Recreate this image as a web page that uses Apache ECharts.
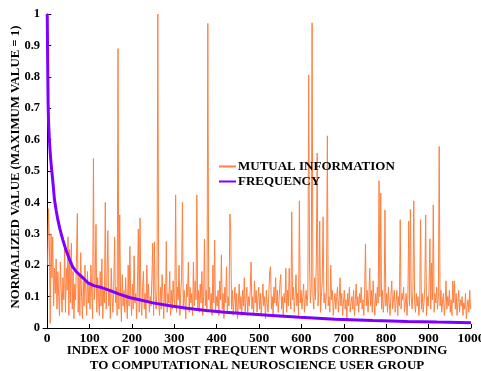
<!DOCTYPE html>
<html><head><meta charset="utf-8">
<script src="https://cdn.jsdelivr.net/npm/echarts@6/dist/echarts.min.js"></script>
<style>html,body{margin:0;padding:0;background:#fff}#c{width:481px;height:371px}</style>
</head><body><div id="c"></div>
<script>
// Mutual information, sampled at odd word indices 1,3,5,...,999
const miValues = [
0.20,0.38,0.28,0.015,0.30,0.16,0.29,0.07,0.19,0.11,
0.22,0.06,0.18,0.10,0.04,0.21,0.12,0.05,0.16,0.09,
0.26,0.05,0.19,0.12,0.29,0.04,0.25,0.08,0.27,0.06,
0.18,0.03,0.14,0.09,0.22,0.365,0.05,0.17,0.04,0.24,
0.10,0.03,0.15,0.07,0.20,0.12,0.04,0.18,0.08,0.14,
0.06,0.20,0.11,0.03,0.54,0.09,0.14,0.33,0.05,0.16,
0.10,0.04,0.18,0.07,0.22,0.03,0.12,0.08,0.40,0.06,
0.15,0.31,0.07,0.12,0.03,0.19,0.10,0.05,0.14,0.29,
0.08,0.13,0.04,0.89,0.06,0.36,0.11,0.02,0.17,0.07,
0.12,0.05,0.16,0.09,0.03,0.20,0.07,0.26,0.10,0.04,
0.14,0.06,0.23,0.08,0.11,0.03,0.15,0.315,0.05,0.35,
0.09,0.04,0.13,0.18,0.06,0.11,0.03,0.20,0.08,0.14,
0.05,0.10,0.07,0.16,0.27,0.04,0.275,0.09,0.06,0.12,
1.00,0.08,0.04,0.13,0.06,0.17,0.10,0.03,0.14,0.07,
0.275,0.05,0.11,0.08,0.18,0.04,0.12,0.06,0.15,0.09,
0.07,0.424,0.05,0.13,0.09,0.20,0.04,0.11,0.16,0.40,
0.06,0.12,0.08,0.03,0.14,0.10,0.21,0.05,0.13,0.08,
0.11,0.04,0.21,0.07,0.15,0.09,0.424,0.06,0.12,0.05,
0.14,0.08,0.18,0.04,0.10,0.283,0.07,0.12,0.05,0.97,
0.09,0.13,0.06,0.11,0.04,0.20,0.08,0.28,0.05,0.10,
0.07,0.12,0.04,0.15,0.09,0.233,0.06,0.11,0.03,0.13,
0.08,0.195,0.05,0.10,0.07,0.363,0.31,0.06,0.12,0.04,
0.09,0.13,0.05,0.11,0.03,0.08,0.14,0.06,0.10,0.04,
0.12,0.07,0.16,0.05,0.09,0.13,0.04,0.10,0.07,0.12,
0.21,0.06,0.10,0.04,0.15,0.08,0.12,0.05,0.09,0.13,
0.06,0.11,0.04,0.09,0.14,0.07,0.10,0.03,0.12,0.08,
0.05,0.11,0.18,0.195,0.06,0.10,0.04,0.13,0.08,0.16,
0.07,0.12,0.05,0.09,0.14,0.17,0.06,0.10,0.04,0.11,
0.08,0.19,0.05,0.12,0.07,0.19,0.10,0.06,0.37,0.09,
0.13,0.05,0.10,0.17,0.07,0.11,0.04,0.405,0.08,0.12,
0.06,0.10,0.14,0.05,0.09,0.12,0.07,0.11,0.806,0.20,
0.08,0.13,0.972,0.10,0.06,0.16,0.09,0.21,0.557,0.07,
0.12,0.34,0.05,0.10,0.15,0.354,0.08,0.11,0.06,0.13,
0.612,0.07,0.10,0.05,0.20,0.09,0.12,0.04,0.08,0.11,
0.06,0.10,0.13,0.05,0.09,0.16,0.07,0.11,0.04,0.08,
0.12,0.06,0.09,0.03,0.11,0.07,0.13,0.05,0.08,0.10,
0.06,0.12,0.04,0.09,0.14,0.07,0.10,0.05,0.11,0.08,
0.13,0.06,0.09,0.04,0.11,0.268,0.07,0.12,0.05,0.10,
0.19,0.07,0.12,0.05,0.15,0.09,0.04,0.11,0.07,0.13,
0.08,0.469,0.10,0.43,0.06,0.12,0.05,0.09,0.376,0.07,
0.11,0.05,0.13,0.08,0.04,0.10,0.15,0.06,0.09,0.12,
0.05,0.08,0.12,0.04,0.10,0.07,0.345,0.06,0.11,0.09,
0.13,0.05,0.08,0.11,0.04,0.09,0.34,0.07,0.378,0.10,
0.06,0.12,0.405,0.08,0.05,0.11,0.07,0.10,0.04,0.09,
0.345,0.06,0.11,0.05,0.08,0.13,0.36,0.04,0.10,0.07,
0.12,0.284,0.06,0.207,0.09,0.392,0.05,0.11,0.08,0.13,
0.06,0.10,0.578,0.07,0.12,0.05,0.09,0.11,0.04,0.08,
0.15,0.06,0.10,0.07,0.12,0.05,0.09,0.04,0.15,0.08,
0.15,0.06,0.11,0.04,0.08,0.12,0.05,0.09,0.07,0.10,
0.04,0.08,0.06,0.11,0.03,0.07,0.09,0.05,0.12,0.06
];
const miIndex = miValues.map((v, i) => 1 + 2 * i);

// Frequency curve, read at selected word indices
const freqIndex = [0,1,2,3,5,8,10,13,17,21,25,30,37,45,53,60,68,80,96,110,130,147,170,194,220,249,275,297,330,375,420,470,530,596,680,768,850,920,1000];
const freqValues = [1.0,0.85,0.72,0.66,0.60,0.54,0.51,0.47,0.41,0.375,0.345,0.315,0.28,0.245,0.217,0.195,0.18,0.165,0.144,0.135,0.128,0.12,0.108,0.097,0.089,0.08,0.074,0.069,0.063,0.056,0.05,0.045,0.04,0.034,0.028,0.024,0.021,0.019,0.017];

const xTicks = [0,100,200,300,400,500,600,700,800,900,1000];
const xTickLabels = ['0','100','200','300','400','500','600','700','800','900','1000'];
const yTickLabels = ['0','0.1','0.2','0.3','0.4','0.5','0.6','0.7','0.8','0.9','1'];
const seriesNames = ['MUTUAL INFORMATION','FREQUENCY'];
const xTitle = 'INDEX OF 1000 MOST FREQUENT WORDS CORRESPONDING\nTO COMPUTATIONAL NEUROSCIENCE USER GROUP';
const yTitle = 'NORMALIZED VALUE (MAXIMUM VALUE = 1)';

const font = 'Liberation Serif';
const chart = echarts.init(document.getElementById('c'), null, {renderer: 'canvas'});
chart.setOption({
  animation: false,
  backgroundColor: '#fff',
  grid: {left: 43, right: 10, top: 14, bottom: 43, containLabel: false, outerBoundsMode: 'none'},
  legend: {
    left: 213, top: 155, orient: 'vertical', itemGap: 2,
    itemWidth: 17, itemHeight: 10,
    itemStyle: {opacity: 0},
    textStyle: {fontFamily: font, fontWeight: 'bold', fontSize: 13, color: '#000', padding: [0,0,0,-3]},
    data: seriesNames
  },
  xAxis: {
    type: 'value', min: -10, max: 1000,
    splitLine: {show: false},
    axisLine: {onZero: false, lineStyle: {color: '#000', width: 1}},
    axisTick: {inside: true, length: 4, customValues: xTicks, lineStyle: {color: '#000'}},
    axisLabel: {customValues: xTicks, margin: 4, fontFamily: font, fontWeight: 'bold', fontSize: 13.5, color: '#000',
      formatter: v => xTickLabels[Math.round(v / 100)]},
    name: xTitle, nameLocation: 'middle', nameGap: 15, nameMoveOverlap: false,
    nameTextStyle: {fontFamily: font, fontWeight: 'bold', fontSize: 13, color: '#000', lineHeight: 15}
  },
  yAxis: {
    type: 'value', min: 0, max: 1, interval: 0.1,
    splitLine: {show: false},
    axisLine: {show: true, lineStyle: {color: '#000', width: 1}},
    axisTick: {show: true, inside: true, length: 4, lineStyle: {color: '#000'}},
    axisLabel: {margin: 3, fontFamily: font, fontWeight: 'bold', fontSize: 12.5, color: '#000',
      formatter: v => yTickLabels[Math.round(v * 10)]},
    name: yTitle, nameLocation: 'middle', nameGap: 21, nameMoveOverlap: false,
    nameTextStyle: {fontFamily: font, fontWeight: 'bold', fontSize: 12.8, color: '#000', padding: [0,0,0,8]}
  },
  series: [
    {name: seriesNames[0], type: 'line', symbol: 'none', showSymbol: false,
     data: miIndex.map((x, i) => [x, miValues[i]]),
     lineStyle: {color: '#FF8040', width: 1}, itemStyle: {color: '#FF8040'}, z: 2},
    {name: seriesNames[1], type: 'line', symbol: 'none', showSymbol: false,
     data: freqIndex.map((x, i) => [x, freqValues[i]]),
     lineStyle: {color: '#8000FF', width: 3}, itemStyle: {color: '#8000FF'}, z: 3}
  ]
});
</script></body></html>
